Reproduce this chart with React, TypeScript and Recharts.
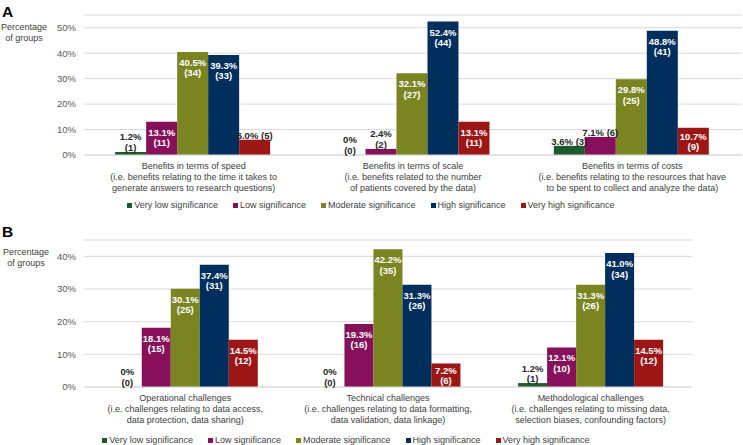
import React from 'react';
import { BarChart, Bar, XAxis, YAxis, CartesianGrid, LabelList } from 'recharts';

const FONT = '"Liberation Sans", Arial, sans-serif';

const levels = ['Very low significance', 'Low significance', 'Moderate significance', 'High significance', 'Very high significance'];
const levelKeys = ['veryLow', 'low', 'moderate', 'high', 'veryHigh'];
const levelColors = ['#1e5a2b', '#86115a', '#7a8522', '#002e5d', '#9d1616'];

// panel A: benefits
const benefitLabels = [
  ['Benefits in terms of speed', '(i.e. benefits relating to the time it takes to', 'generate answers to research questions)'],
  ['Benefits in terms of scale', '(i.e. benefits related to the number', 'of patients covered by the data)'],
  ['Benefits in terms of costs', '(i.e. benefits relating to the resources that have', 'to be spent to collect and analyze the data)'],
];
const benefitPct = [
  [1.2, 13.1, 40.5, 39.3, 6.0],
  [0, 2.4, 32.1, 52.4, 13.1],
  [3.6, 7.1, 29.8, 48.8, 10.7],
];
const benefitN = [
  [1, 11, 34, 33, 5],
  [0, 2, 27, 44, 11],
  [3, 6, 25, 41, 9],
];
const benefitTicks = [0, 10, 20, 30, 40, 50];

// panel B: challenges
const challengeLabels = [
  ['Operational challenges', '(i.e. challenges relating to data access,', 'data protection, data sharing)'],
  ['Technical challenges', '(i.e. challenges relating to data formatting,', 'data validation, data linkage)'],
  ['Methodological challenges', '(i.e. challenges relating to missing data,', 'selection biases, confounding factors)'],
];
const challengePct = [
  [0, 18.1, 30.1, 37.4, 14.5],
  [0, 19.3, 42.2, 31.3, 7.2],
  [1.2, 12.1, 31.3, 41.0, 14.5],
];
const challengeN = [
  [0, 15, 25, 31, 12],
  [0, 16, 35, 26, 6],
  [1, 10, 26, 34, 12],
];
const challengeTicks = [0, 10, 20, 30, 40];

function buildRows(labels: string[][], pct: number[][], n: number[][]) {
  return labels.map((lines, i) => {
    const row: any = { name: lines[0], lines };
    levelKeys.forEach((k, j) => {
      row[k] = pct[i][j];
      row[k + '_n'] = n[i][j];
    });
    return row;
  });
}

const benefitRows = buildRows(benefitLabels, benefitPct, benefitN);
const challengeRows = buildRows(challengeLabels, challengePct, challengeN);

function BarLabel(props: any) {
  const { x, y, width, height, value } = props;
  if (value == null) return null;
  const [pctS, nS] = String(value).split('|');
  const pct = Number(pctS);
  const pctText = pct === 0 ? '0%' : `${pct.toFixed(1)}%`;
  const cx = x + width / 2;
  const common = { textAnchor: 'middle' as const, fontWeight: 'bold', fontSize: 9.5, fontFamily: FONT };
  if (height >= 20) {
    // two lines near the top, or centred in the bar when it is short
    const mid = Math.min(15.5, height / 2);
    return (
      <text x={cx} y={y} fill="#ffffff" {...common}>
        <tspan x={cx} dy={mid - 1.5}>{pctText}</tspan>
        <tspan x={cx} dy={10.5}>({nS})</tspan>
      </text>
    );
  }
  if (pct >= 3) {
    return <text x={cx} y={y - 1} fill="#262626" {...common}>{`${pctText} (${nS})`}</text>;
  }
  return (
    <text x={cx} y={y - 11.5} fill="#262626" {...common}>
      <tspan x={cx}>{pctText}</tspan>
      <tspan x={cx} dy={10.5}>({nS})</tspan>
    </text>
  );
}

function CategoryTick(props: any) {
  const { x, y, payload, rows } = props;
  const row = rows.find((r: any) => r.name === payload.value);
  if (!row) return null;
  return (
    <text x={x} y={y} textAnchor="middle" fill="#404040" fontSize={9} fontFamily={FONT}>
      {row.lines.map((l: string, i: number) => (
        <tspan key={i} x={x} dy={i === 0 ? 6 : 11}>{l}</tspan>
      ))}
    </text>
  );
}

interface PanelProps {
  letter: string;
  rows: any[];
  ticks: number[];
  domainMax: number;
  top: number;
  height: number;
  marginTop: number;
  marginRight: number;
  xAxisHeight: number;
  legendTop: number;
}

function Panel({ letter, rows, ticks, domainMax, top, height, marginTop, marginRight, xAxisHeight, legendTop }: PanelProps) {
  return (
    <div style={{ position: 'absolute', left: 0, top, width: 743, height }}>
      <BarChart
        width={743}
        height={height}
        data={rows}
        margin={{ top: marginTop, right: marginRight, left: 0, bottom: 0 }}
        barCategoryGap="14.2%"
        barGap={0}
      >
        <CartesianGrid stroke="#d9d9d9" vertical={false} />
        <XAxis
          dataKey="name"
          height={xAxisHeight}
          interval={0}
          tickLine={false}
          axisLine={{ stroke: '#d9d9d9' }}
          tick={(p: any) => <CategoryTick {...p} rows={rows} />}
        />
        <YAxis
          width={84}
          domain={[0, domainMax]}
          ticks={ticks}
          axisLine={false}
          tickLine={false}
          tickFormatter={(v) => `${v}%`}
          tick={{ fill: '#595959', fontSize: 9.5, fontFamily: FONT }}
        />
        {levelKeys.map((k, j) => (
          <Bar
            key={k}
            dataKey={k}
            name={levels[j]}
            fill={levelColors[j]}
            minPointSize={(v: any) => (v === 0 ? 0.01 : 0)}
            isAnimationActive={false}
          >
            <LabelList dataKey={(d: any) => `${d[k]}|${d[k + '_n']}`} content={BarLabel} />
          </Bar>
        ))}
      </BarChart>
      <svg style={{ position: 'absolute', left: 0, top: 0 }} width={90} height={50}>
        <text x={2} y={17} fontSize={15.5} fontWeight="bold" fill="#000" fontFamily={FONT}>{letter}</text>
      </svg>
      <div
        style={{
          position: 'absolute', left: 0, top: legendTop, width: 743 - marginRight,
          display: 'flex', justifyContent: 'center', gap: 15,
          fontFamily: FONT, fontSize: 9, color: '#404040', lineHeight: '12px',
        }}
      >
        {levels.map((l, j) => (
          <div key={l} style={{ display: 'flex', alignItems: 'center' }}>
            <span style={{ display: 'inline-block', width: 5, height: 5, background: levelColors[j], marginRight: 2 }} />
            {l}
          </div>
        ))}
      </div>
    </div>
  );
}

export default function App() {
  return (
    <div style={{ position: 'relative', width: 743, height: 445, background: '#fff', fontFamily: FONT, overflow: 'hidden' }}>
      <style>{'body{margin:0}'}</style>
      <Panel letter="A" rows={benefitRows} ticks={benefitTicks} domainMax={55} top={0} height={220}
        marginTop={15} marginRight={1} xAxisHeight={65} legendTop={199} />
      <Panel letter="B" rows={challengeRows} ticks={challengeTicks} domainMax={45} top={220} height={225}
        marginTop={20} marginRight={51} xAxisHeight={58} legendTop={214} />
      <svg style={{ position: 'absolute', left: 0, top: 0, pointerEvents: 'none' }} width={90} height={445}>
        <text textAnchor="middle" fill="#404040" fontSize={9} fontFamily={FONT}>
          <tspan x={24} y={30}>Percentage</tspan>
          <tspan x={24} y={41}>of groups</tspan>
        </text>
        <text textAnchor="middle" fill="#404040" fontSize={9} fontFamily={FONT}>
          <tspan x={26} y={255}>Percentage</tspan>
          <tspan x={26} y={266}>of groups</tspan>
        </text>
      </svg>
    </div>
  );
}
